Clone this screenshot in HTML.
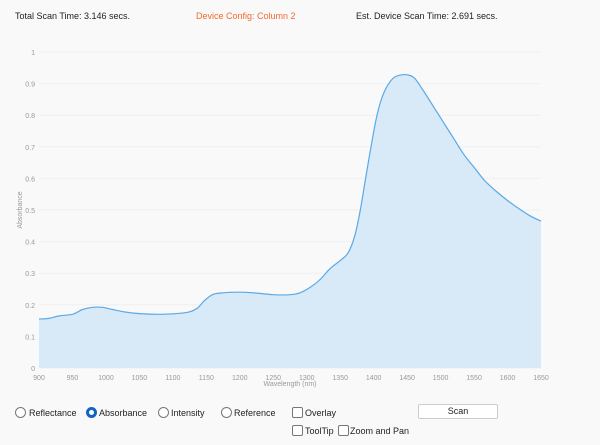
<!DOCTYPE html>
<html><head><style>
body{margin:0;width:600px;height:445px;background:#f9f9f9;font-family:"Liberation Sans",sans-serif;position:relative;overflow:hidden}
.t{position:absolute;top:11px;font-size:9px;color:#222}
.l{position:absolute;font-size:9px;color:#222}
.rd{position:absolute;width:9px;height:9px;border:1px solid #777;border-radius:50%;background:#fff}
.cb{position:absolute;width:9px;height:9px;border:1px solid #777;border-radius:2px;background:#fff}
</style></head><body>
<div class="t" style="left:15px">Total Scan Time: 3.146 secs.</div>
<div class="t" style="left:196px;color:#f26a2e">Device Config: Column 2</div>
<div class="t" style="left:356px">Est. Device Scan Time: 2.691 secs.</div>
<svg id="s" width="600" height="445" style="position:absolute;left:0;top:0"></svg>
<div class="rd" style="left:15px;top:407px"></div><div class="l" style="left:29px;top:408px">Reflectance</div>
<div class="rd" style="left:86px;top:407px;border:3px solid #1565c0;width:5px;height:5px"></div><div class="l" style="left:99px;top:408px">Absorbance</div>
<div class="rd" style="left:158px;top:407px"></div><div class="l" style="left:171px;top:408px">Intensity</div>
<div class="rd" style="left:221px;top:407px"></div><div class="l" style="left:234px;top:408px">Reference</div>
<div class="cb" style="left:292px;top:407px"></div><div class="l" style="left:305px;top:408px">Overlay</div>
<div class="cb" style="left:292px;top:425px"></div><div class="l" style="left:305px;top:426px">ToolTip</div>
<div class="cb" style="left:338px;top:425px"></div><div class="l" style="left:350px;top:426px">Zoom and Pan</div>
<div style="position:absolute;left:418px;top:404px;width:78px;height:13px;border:1px solid #ccc;border-radius:2px;background:#fff;font-size:9px;text-align:center;line-height:13px;color:#222">Scan</div>
<script>
var s=document.getElementById('s'),h='';
function X(w){return 39+(w-900)*502/750}function Y(v){return 368-v*316}
for(var i=0;i<=10;i++){var y=Y(i/10);h+='<line x1="39" x2="541" y1="'+y+'" y2="'+y+'" stroke="#f0f0f0" stroke-width="1"/>';h+='<text x="35" y="'+(y+3)+'" font-size="7" fill="#999" text-anchor="end">'+(i==0?'0':i==10?'1':'0.'+i)+'</text>';}
for(var w=900;w<=1650;w+=50)h+='<text x="'+X(w)+'" y="380" font-size="7" fill="#999" text-anchor="middle">'+w+'</text>';
h+='<text x="290" y="386" font-size="7" fill="#999" text-anchor="middle">Wavelength (nm)</text>';
h+='<text transform="translate(22,210) rotate(-90)" font-size="7" fill="#999" text-anchor="middle">Absorbance</text>';
var d=[[900,.155],[915,.157],[930,.165],[950,.17],[965,.185],[980,.192],[995,.192],[1010,.185],[1030,.177],[1050,.172],[1080,.17],[1110,.173],[1125,.178],[1137,.19],[1148,.215],[1160,.233],[1175,.238],[1200,.24],[1225,.237],[1250,.232],[1275,.232],[1290,.238],[1305,.255],[1320,.28],[1335,.315],[1350,.34],[1362,.365],[1372,.42],[1380,.5],[1388,.6],[1396,.7],[1405,.8],[1415,.87],[1428,.915],[1440,.927],[1452,.927],[1462,.915],[1475,.875],[1490,.825],[1505,.775],[1520,.725],[1535,.675],[1550,.635],[1565,.595],[1580,.565],[1600,.53],[1620,.5],[1635,.48],[1650,.465]];
var P=d.map(function(a){return [X(a[0]),Y(a[1])]});
var p='M'+P[0][0].toFixed(1)+','+P[0][1].toFixed(1);
for(var i=0;i<P.length-1;i++){var a=P[i-1]||P[i],b=P[i],c=P[i+1],e=P[i+2]||c;
p+=' C'+(b[0]+(c[0]-a[0])/6).toFixed(1)+','+(b[1]+(c[1]-a[1])/6).toFixed(1)+' '+(c[0]-(e[0]-b[0])/6).toFixed(1)+','+(c[1]-(e[1]-b[1])/6).toFixed(1)+' '+c[0].toFixed(1)+','+c[1].toFixed(1);}
h+='<path d="'+p+' L541,368 L39,368 Z" fill="#d8e9f7"/>';
h+='<path d="'+p+'" fill="none" stroke="#5aa9e6" stroke-width="1.2"/>';
s.innerHTML=h;
</script>
</body></html>
